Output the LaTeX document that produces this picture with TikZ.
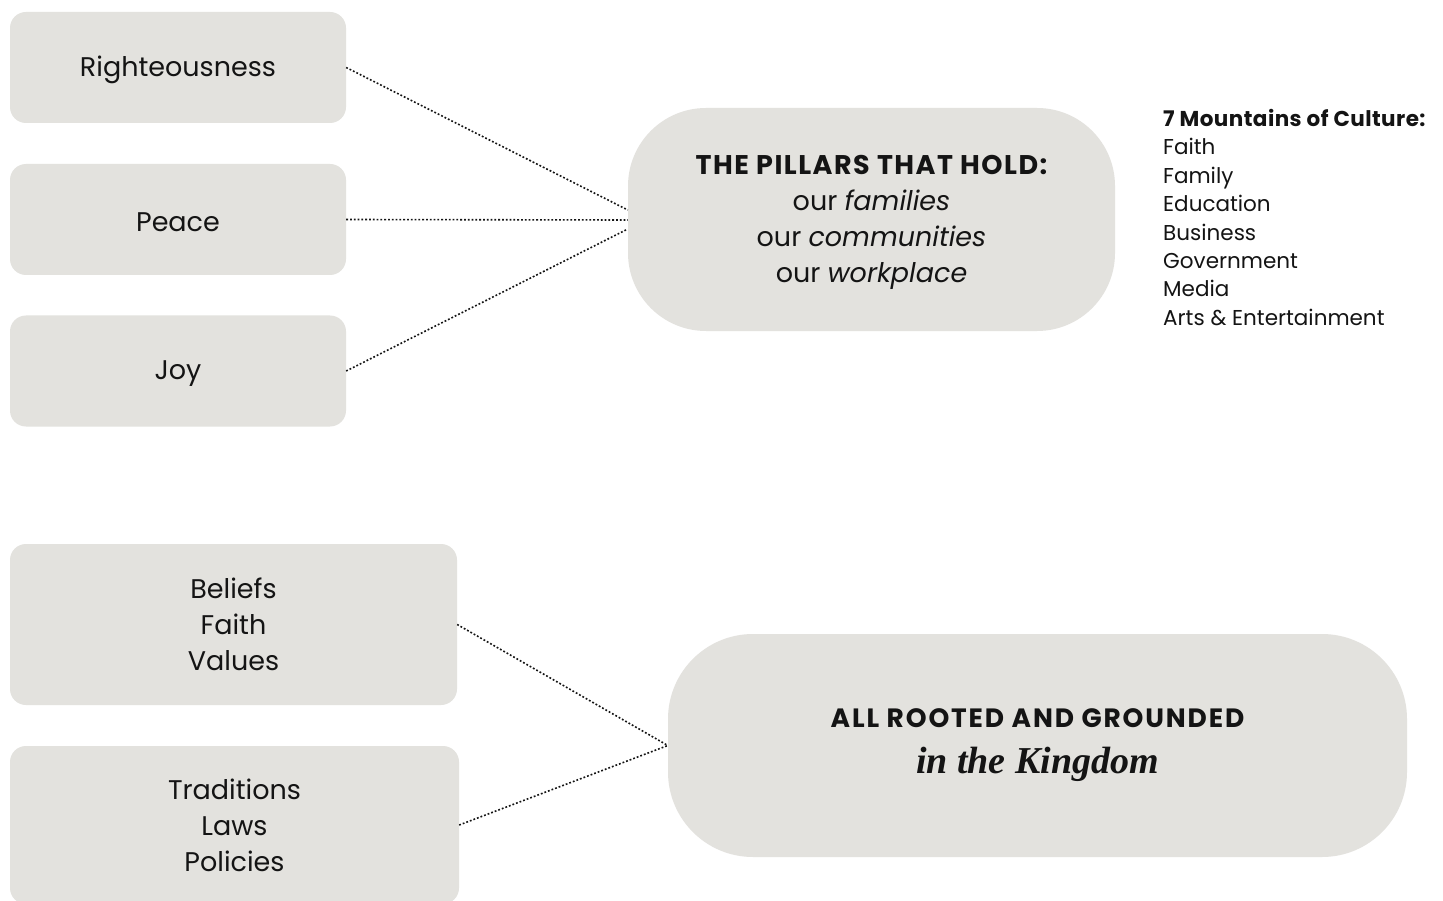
\documentclass[tikz,border=0pt]{standalone}
\usepackage{fontspec}
\setmainfont{Poppins}
\newfontfamily\kingfont{Liberation Serif}
\definecolor{boxgray}{RGB}{227,226,222}
\definecolor{txt}{RGB}{20,20,20}
\newcommand{\lowerby}[1]{\raisebox{-2.5pt}[\height][\depth]{#1}}
\begin{document}
\begin{tikzpicture}[x=1pt,y=1pt,
  smallbox/.style={draw=none,fill=boxgray,rounded corners=16pt,inner sep=0pt,
    minimum width=336pt,minimum height=111pt,text=txt,
    font=\fontsize{27}{36}\selectfont,align=center},
  bigbox/.style={draw=none,fill=boxgray,inner sep=0pt,text=txt,align=center,
    font=\fontsize{27}{36}\selectfont},
  plaintext/.style={inner sep=0pt,text=txt,align=center,font=\fontsize{27}{36}\selectfont},
  link/.style={line width=1.6pt,dash pattern=on 1.8pt off 2pt,txt}]
\useasboundingbox (0,0) rectangle (1443,-901);
\fill[white] (0,0) rectangle (1443,-901);
% top left boxes
\node[smallbox] (r) at (178,-67.5) {\lowerby{Righteousness}};
\node[smallbox] (p) at (178,-219.5) {\lowerby{Peace}};
\node[smallbox] (j) at (178,-371) {\lowerby{Joy}};
% pillars box
\node[bigbox,rounded corners=78pt,minimum width=487pt,minimum height=223pt] (pil) at (871.5,-219.5) {};
\node[plaintext] (piltext) at ([yshift=-3pt]pil.center)
  {{\addfontfeature{LetterSpace=5.5}\bfseries THE PILLARS THAT HOLD:}\\ our \textit{families}\\ our \textit{communities}\\ our \textit{workplace}};
\coordinate (pt) at ([yshift=9.5pt]pil.west);
\coordinate (pm) at ([yshift=-0.5pt]pil.west);
\coordinate (pb) at ([yshift=-9.5pt]pil.west);
\draw[link] (r.east) -- (pt);
\draw[link] (p.east) -- (pm);
\draw[link] (j.east) -- (pb);
% seven mountains
\node[anchor=north west,inner sep=0pt,align=left,text=txt,font=\fontsize{21.5}{28.4}\selectfont] (mt) at (1163,-109)
  {{\addfontfeature{LetterSpace=2}\bfseries 7 Mountains of Culture:}\\ Faith\\ Family\\ Education\\ Business\\ Government\\ Media\\ Arts \& Entertainment};
% bottom left boxes
\node[smallbox,minimum width=447pt,minimum height=161pt] (b) at (233.5,-624.5) {Beliefs\\ Faith\\ Values};
\node[smallbox,minimum width=449pt,minimum height=158pt] (t) at (234.5,-825) {Traditions\\ Laws\\ Policies};
% rooted box
\node[bigbox,rounded corners=85pt,minimum width=739pt,minimum height=223pt] (root) at (1037.5,-745.5)
  {{\fontsize{26.5}{30}\selectfont\addfontfeature{LetterSpace=7}\bfseries ALL ROOTED AND GROUNDED}\\[10pt] {\kingfont\bfseries\itshape\fontsize{38}{40}\selectfont in the Kingdom}};
\draw[link] (b.east) -- (root.west);
\draw[link] (t.east) -- (root.west);
\end{tikzpicture}
\end{document}
